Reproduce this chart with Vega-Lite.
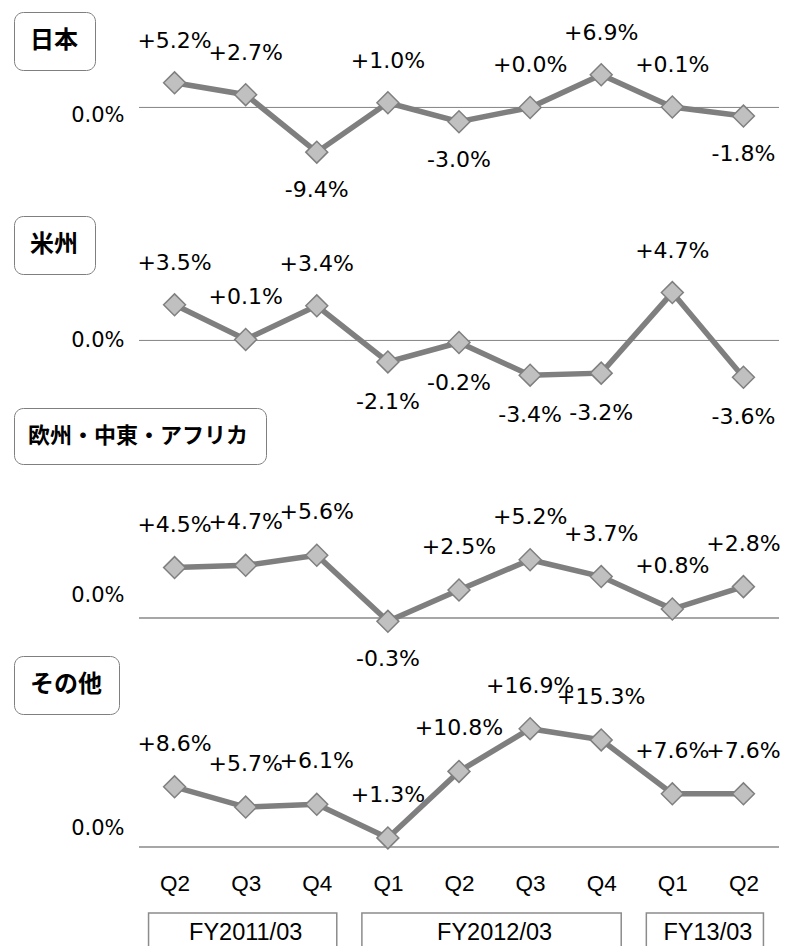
{
  "$schema": "https://vega.github.io/schema/vega-lite/v6.json",
  "padding": {"left": 13, "top": 11, "right": 0, "bottom": 0},
  "background": "white",
  "bounds": "flush",
  "spacing": 0,
  "config": {"view": {"stroke": null}, "axis": {"grid": false}},
  "resolve": {
    "scale": {"color": "independent", "x": "independent", "y": "independent"},
    "legend": {"color": "independent"}
  },
  "datasets": {
    "sales": [
      {"region": "日本", "q": "FY11 Q2", "v": 5.2, "label": "+5.2%"},
      {"region": "日本", "q": "FY11 Q3", "v": 2.7, "label": "+2.7%"},
      {"region": "日本", "q": "FY11 Q4", "v": -9.4, "label": "-9.4%"},
      {"region": "日本", "q": "FY12 Q1", "v": 1.0, "label": "+1.0%"},
      {"region": "日本", "q": "FY12 Q2", "v": -3.0, "label": "-3.0%"},
      {"region": "日本", "q": "FY12 Q3", "v": 0.0, "label": "+0.0%"},
      {"region": "日本", "q": "FY12 Q4", "v": 6.9, "label": "+6.9%"},
      {"region": "日本", "q": "FY13 Q1", "v": 0.1, "label": "+0.1%"},
      {"region": "日本", "q": "FY13 Q2", "v": -1.8, "label": "-1.8%"},
      {"region": "米州", "q": "FY11 Q2", "v": 3.5, "label": "+3.5%"},
      {"region": "米州", "q": "FY11 Q3", "v": 0.1, "label": "+0.1%"},
      {"region": "米州", "q": "FY11 Q4", "v": 3.4, "label": "+3.4%"},
      {"region": "米州", "q": "FY12 Q1", "v": -2.1, "label": "-2.1%"},
      {"region": "米州", "q": "FY12 Q2", "v": -0.2, "label": "-0.2%"},
      {"region": "米州", "q": "FY12 Q3", "v": -3.4, "label": "-3.4%"},
      {"region": "米州", "q": "FY12 Q4", "v": -3.2, "label": "-3.2%"},
      {"region": "米州", "q": "FY13 Q1", "v": 4.7, "label": "+4.7%"},
      {"region": "米州", "q": "FY13 Q2", "v": -3.6, "label": "-3.6%"},
      {"region": "欧州・中東・アフリカ", "q": "FY11 Q2", "v": 4.5, "label": "+4.5%"},
      {"region": "欧州・中東・アフリカ", "q": "FY11 Q3", "v": 4.7, "label": "+4.7%"},
      {"region": "欧州・中東・アフリカ", "q": "FY11 Q4", "v": 5.6, "label": "+5.6%"},
      {"region": "欧州・中東・アフリカ", "q": "FY12 Q1", "v": -0.3, "label": "-0.3%"},
      {"region": "欧州・中東・アフリカ", "q": "FY12 Q2", "v": 2.5, "label": "+2.5%"},
      {"region": "欧州・中東・アフリカ", "q": "FY12 Q3", "v": 5.2, "label": "+5.2%"},
      {"region": "欧州・中東・アフリカ", "q": "FY12 Q4", "v": 3.7, "label": "+3.7%"},
      {"region": "欧州・中東・アフリカ", "q": "FY13 Q1", "v": 0.8, "label": "+0.8%"},
      {"region": "欧州・中東・アフリカ", "q": "FY13 Q2", "v": 2.8, "label": "+2.8%"},
      {"region": "その他", "q": "FY11 Q2", "v": 8.6, "label": "+8.6%"},
      {"region": "その他", "q": "FY11 Q3", "v": 5.7, "label": "+5.7%"},
      {"region": "その他", "q": "FY11 Q4", "v": 6.1, "label": "+6.1%"},
      {"region": "その他", "q": "FY12 Q1", "v": 1.3, "label": "+1.3%"},
      {"region": "その他", "q": "FY12 Q2", "v": 10.8, "label": "+10.8%"},
      {"region": "その他", "q": "FY12 Q3", "v": 16.9, "label": "+16.9%"},
      {"region": "その他", "q": "FY12 Q4", "v": 15.3, "label": "+15.3%"},
      {"region": "その他", "q": "FY13 Q1", "v": 7.6, "label": "+7.6%"},
      {"region": "その他", "q": "FY13 Q2", "v": 7.6, "label": "+7.6%"}
    ],
    "quarters": [
      {"n": 1, "q": "FY11 Q2", "fy": "FY2011/03"},
      {"n": 2, "q": "FY11 Q3", "fy": "FY2011/03"},
      {"n": 3, "q": "FY11 Q4", "fy": "FY2011/03"},
      {"n": 4, "q": "FY12 Q1", "fy": "FY2012/03"},
      {"n": 5, "q": "FY12 Q2", "fy": "FY2012/03"},
      {"n": 6, "q": "FY12 Q3", "fy": "FY2012/03"},
      {"n": 7, "q": "FY12 Q4", "fy": "FY2012/03"},
      {"n": 8, "q": "FY13 Q1", "fy": "FY13/03"},
      {"n": 9, "q": "FY13 Q2", "fy": "FY13/03"}
    ]
  },
  "vconcat": [
    {
      "width": 640, "height": 200,
      "data": {"name": "sales"},
      "transform": [{"filter": "datum.region === '日本'"}],
      "encoding": {
        "y": {"field": "v", "type": "quantitative",
          "scale": {"domain": [-22.0, 20.105], "nice": false, "zero": false},
          "axis": {"values": [0], "format": ".1%", "title": null, "domain": false, "ticks": false, "tickSize": 0, "grid": false, "labelPadding": 15, "labelFont": "DejaVu Sans", "labelFontSize": 21, "labelColor": "black", "labelOffset": 8.5}}
      },
      "layer": [
        {"mark": {"type": "rule", "color": "#8c8c8c", "strokeWidth": 1}, "encoding": {"y": {"datum": 0, "type": "quantitative"}}},
        {"mark": {"type": "line", "strokeWidth": 5.5},
          "encoding": {
            "x": {"field": "q", "type": "ordinal", "scale": {"type": "point", "padding": 0.5}, "axis": null},
            "color": {"field": "region", "type": "nominal", "scale": {"range": ["#7f7f7f"]},
              "legend": {"orient": "none", "legendX": -125, "legendY": 0, "title": null, "symbolType": "circle", "symbolSize": 0.01, "symbolOpacity": 0, "symbolStrokeWidth": 0, "labelOffset": -25, "labelFont": "Noto Sans CJK JP", "labelFontWeight": "bold", "labelFontSize": 24, "labelColor": "black", "labelLimit": 400, "padding": 17, "strokeColor": "#7f7f7f", "cornerRadius": 9, "fillColor": "white"}}
          }},
        {"mark": {"type": "point", "shape": "diamond", "filled": true, "fill": "#c0c0c0", "stroke": "#7f7f7f", "strokeWidth": 1.5, "size": 480, "opacity": 1},
          "encoding": {"x": {"field": "q", "type": "ordinal", "scale": {"type": "point", "padding": 0.5}, "axis": null}}},
        {"transform": [{"filter": "datum.v >= 0"}],
          "mark": {"type": "text", "dy": -42, "font": "DejaVu Sans", "fontSize": 22, "color": "black", "baseline": "middle"},
          "encoding": {"x": {"field": "q", "type": "ordinal", "scale": {"type": "point", "padding": 0.5}, "axis": null}, "text": {"field": "label"}}},
        {"transform": [{"filter": "datum.v < 0"}],
          "mark": {"type": "text", "dy": 38, "font": "DejaVu Sans", "fontSize": 22, "color": "black", "baseline": "middle"},
          "encoding": {"x": {"field": "q", "type": "ordinal", "scale": {"type": "point", "padding": 0.5}, "axis": null}, "text": {"field": "label"}}}
      ]
    },
    {
      "width": 640, "height": 200,
      "data": {"name": "sales"},
      "transform": [{"filter": "datum.region === '米州'"}],
      "encoding": {
        "y": {"field": "v", "type": "quantitative",
          "scale": {"domain": [-7.01, 12.598], "nice": false, "zero": false},
          "axis": {"values": [0], "format": ".1%", "title": null, "domain": false, "ticks": false, "tickSize": 0, "grid": false, "labelPadding": 15, "labelFont": "DejaVu Sans", "labelFontSize": 21, "labelColor": "black", "labelOffset": 0}}
      },
      "layer": [
        {"mark": {"type": "rule", "color": "#8c8c8c", "strokeWidth": 1}, "encoding": {"y": {"datum": 0, "type": "quantitative"}}},
        {"mark": {"type": "line", "strokeWidth": 5.5},
          "encoding": {
            "x": {"field": "q", "type": "ordinal", "scale": {"type": "point", "padding": 0.5}, "axis": null},
            "color": {"field": "region", "type": "nominal", "scale": {"range": ["#7f7f7f"]},
              "legend": {"orient": "none", "legendX": -125, "legendY": 4, "title": null, "symbolType": "circle", "symbolSize": 0.01, "symbolOpacity": 0, "symbolStrokeWidth": 0, "labelOffset": -25, "labelFont": "Noto Sans CJK JP", "labelFontWeight": "bold", "labelFontSize": 24, "labelColor": "black", "labelLimit": 400, "padding": 17, "strokeColor": "#7f7f7f", "cornerRadius": 9, "fillColor": "white"}}
          }},
        {"mark": {"type": "point", "shape": "diamond", "filled": true, "fill": "#c0c0c0", "stroke": "#7f7f7f", "strokeWidth": 1.5, "size": 480, "opacity": 1},
          "encoding": {"x": {"field": "q", "type": "ordinal", "scale": {"type": "point", "padding": 0.5}, "axis": null}}},
        {"transform": [{"filter": "datum.v >= 0"}],
          "mark": {"type": "text", "dy": -42, "font": "DejaVu Sans", "fontSize": 22, "color": "black", "baseline": "middle"},
          "encoding": {"x": {"field": "q", "type": "ordinal", "scale": {"type": "point", "padding": 0.5}, "axis": null}, "text": {"field": "label"}}},
        {"transform": [{"filter": "datum.v < 0"}],
          "mark": {"type": "text", "dy": 40, "font": "DejaVu Sans", "fontSize": 22, "color": "black", "baseline": "middle"},
          "encoding": {"x": {"field": "q", "type": "ordinal", "scale": {"type": "point", "padding": 0.5}, "axis": null}, "text": {"field": "label"}}}
      ]
    },
    {
      "width": 640, "height": 229,
      "data": {"name": "sales"},
      "transform": [{"filter": "datum.region === '欧州・中東・アフリカ'"}],
      "encoding": {
        "y": {"field": "v", "type": "quantitative",
          "scale": {"domain": [-2.054, 18.393], "nice": false, "zero": false},
          "axis": {"values": [0], "format": ".1%", "title": null, "domain": false, "ticks": false, "tickSize": 0, "grid": false, "labelPadding": 15, "labelFont": "DejaVu Sans", "labelFontSize": 21, "labelColor": "black", "labelOffset": -22}}
      },
      "layer": [
        {"mark": {"type": "rule", "color": "#a6a6a6", "strokeWidth": 1}, "encoding": {"y": {"datum": 0, "type": "quantitative"}}},
        {"mark": {"type": "line", "strokeWidth": 5.5},
          "encoding": {
            "x": {"field": "q", "type": "ordinal", "scale": {"type": "point", "padding": 0.5}, "axis": null},
            "color": {"field": "region", "type": "nominal", "scale": {"range": ["#7f7f7f"]},
              "legend": {"orient": "none", "legendX": -125, "legendY": -4, "title": null, "symbolType": "circle", "symbolSize": 0.01, "symbolOpacity": 0, "symbolStrokeWidth": 0, "labelOffset": -25, "labelFont": "Noto Sans CJK JP", "labelFontWeight": "bold", "labelFontSize": 22, "labelColor": "black", "labelLimit": 400, "padding": 17, "strokeColor": "#7f7f7f", "cornerRadius": 9, "fillColor": "white"}}
          }},
        {"mark": {"type": "point", "shape": "diamond", "filled": true, "fill": "#c0c0c0", "stroke": "#7f7f7f", "strokeWidth": 1.5, "size": 480, "opacity": 1},
          "encoding": {"x": {"field": "q", "type": "ordinal", "scale": {"type": "point", "padding": 0.5}, "axis": null}}},
        {"transform": [{"filter": "datum.v >= 0"}],
          "mark": {"type": "text", "dy": -43, "font": "DejaVu Sans", "fontSize": 22, "color": "black", "baseline": "middle"},
          "encoding": {"x": {"field": "q", "type": "ordinal", "scale": {"type": "point", "padding": 0.5}, "axis": null}, "text": {"field": "label"}}},
        {"transform": [{"filter": "datum.v < 0"}],
          "mark": {"type": "text", "dy": 38, "font": "DejaVu Sans", "fontSize": 22, "color": "black", "baseline": "middle"},
          "encoding": {"x": {"field": "q", "type": "ordinal", "scale": {"type": "point", "padding": 0.5}, "axis": null}, "text": {"field": "label"}}}
      ]
    },
    {
      "width": 640, "height": 222,
      "data": {"name": "sales"},
      "transform": [{"filter": "datum.region === 'その他'"}],
      "encoding": {
        "y": {"field": "v", "type": "quantitative",
          "scale": {"domain": [-2.286, 29.429], "nice": false, "zero": false},
          "axis": {"values": [0], "format": ".1%", "title": null, "domain": false, "ticks": false, "tickSize": 0, "grid": false, "labelPadding": 15, "labelFont": "DejaVu Sans", "labelFontSize": 21, "labelColor": "black", "labelOffset": -18.5}}
      },
      "layer": [
        {"mark": {"type": "rule", "color": "#a6a6a6", "strokeWidth": 1}, "encoding": {"y": {"datum": 0, "type": "quantitative"}}},
        {"mark": {"type": "line", "strokeWidth": 5.5},
          "encoding": {
            "x": {"field": "q", "type": "ordinal", "scale": {"type": "point", "padding": 0.5},
              "axis": {"orient": "bottom", "title": null, "domain": false, "ticks": false, "tickSize": 0, "labelPadding": 9, "labelAngle": 0, "labelFont": "Liberation Sans", "labelFontSize": 22.5, "labelColor": "black", "labelExpr": "substring(datum.label, 5)"}},
            "color": {"field": "region", "type": "nominal", "scale": {"range": ["#7f7f7f"]},
              "legend": {"orient": "none", "legendX": -125, "legendY": 15, "title": null, "symbolType": "circle", "symbolSize": 0.01, "symbolOpacity": 0, "symbolStrokeWidth": 0, "labelOffset": -25, "labelFont": "Noto Sans CJK JP", "labelFontWeight": "bold", "labelFontSize": 24, "labelColor": "black", "labelLimit": 400, "padding": 17, "strokeColor": "#7f7f7f", "cornerRadius": 9, "fillColor": "white"}}
          }},
        {"mark": {"type": "point", "shape": "diamond", "filled": true, "fill": "#c0c0c0", "stroke": "#7f7f7f", "strokeWidth": 1.5, "size": 480, "opacity": 1},
          "encoding": {"x": {"field": "q", "type": "ordinal", "scale": {"type": "point", "padding": 0.5}}}},
        {"transform": [{"filter": "datum.v >= 0"}],
          "mark": {"type": "text", "dy": -43, "font": "DejaVu Sans", "fontSize": 22, "color": "black", "baseline": "middle"},
          "encoding": {"x": {"field": "q", "type": "ordinal", "scale": {"type": "point", "padding": 0.5}}, "text": {"field": "label"}}},
        {"transform": [{"filter": "datum.v < 0"}],
          "mark": {"type": "text", "dy": 38, "font": "DejaVu Sans", "fontSize": 22, "color": "black", "baseline": "middle"},
          "encoding": {"x": {"field": "q", "type": "ordinal", "scale": {"type": "point", "padding": 0.5}}, "text": {"field": "label"}}}
      ]
    },
    {
      "width": 640, "height": 84,
      "data": {"name": "quarters"},
      "layer": [
        {"mark": {"type": "rect", "fill": "white", "stroke": "#8c8c8c", "strokeWidth": 1.5, "yOffset": 50, "y2Offset": 20, "xOffset": -26, "x2Offset": 20, "clip": true},
          "encoding": {
            "x": {"aggregate": "min", "field": "n", "type": "quantitative", "scale": {"domain": [0.5, 9.5], "nice": false, "zero": false}, "axis": null},
            "x2": {"aggregate": "max", "field": "n"},
            "detail": {"field": "fy", "type": "nominal"}
          }},
        {"mark": {"type": "text", "font": "Liberation Sans", "fontSize": 23.5, "color": "black", "dy": 28, "baseline": "middle"},
          "encoding": {
            "x": {"aggregate": "mean", "field": "n", "type": "quantitative", "scale": {"domain": [0.5, 9.5], "nice": false, "zero": false}, "axis": null},
            "text": {"field": "fy", "type": "nominal"}
          }}
      ]
    }
  ]
}
